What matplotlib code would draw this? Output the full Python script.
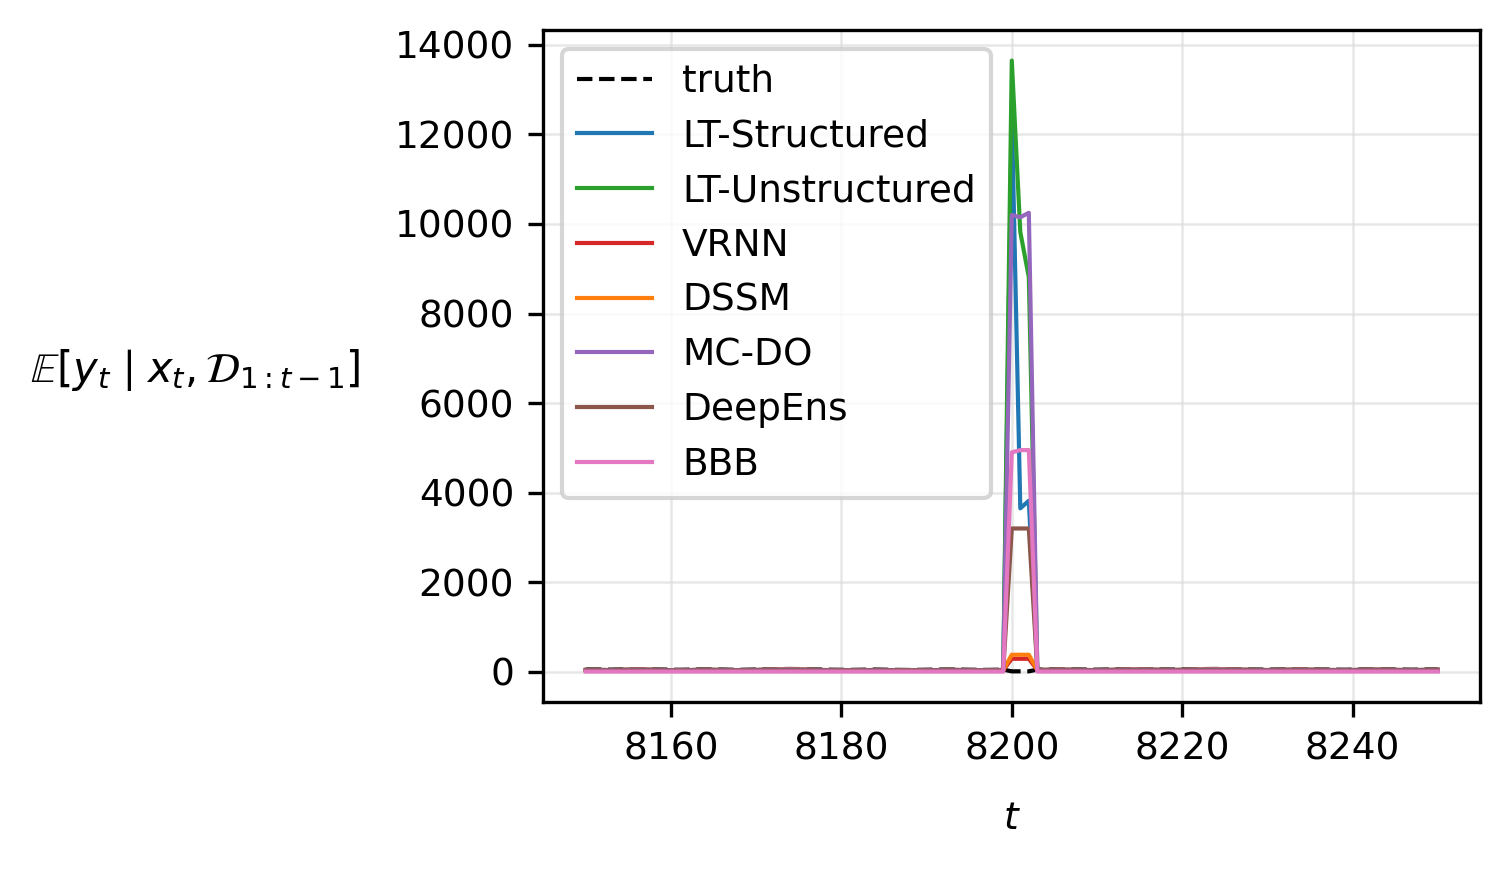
import matplotlib
matplotlib.use("Agg")
import matplotlib.pyplot as plt
import numpy as np

t = np.arange(8150, 8251)

# baseline levels (tiny compared with the spike)
truth_base = [52, 55, 50, 48, 53, 57, 60, 58, 54, 50, 47, 45, 48, 52, 55, 53, 50, 46, 44, 47,
              51, 55, 58, 61, 63, 60, 56, 52, 49, 46, 44, 42, 45, 48, 50, 47, 44, 42, 40, 43,
              46, 48, 50, 52, 49, 46, 44, 42, 45, 48, 10, 10, 10, 48, 52, 55, 57, 54, 51, 49,
              47, 50, 53, 56, 58, 60, 57, 54, 52, 50, 53, 56, 59, 61, 63, 60, 57, 55, 52, 50,
              48, 51, 54, 56, 58, 55, 52, 50, 48, 46, 49, 52, 55, 57, 54, 51, 49, 47, 50, 53, 55]
model_base = [40, 42, 39, 37, 41, 44, 47, 46, 42, 39, 36, 35, 37, 40, 43, 41, 39, 36, 34, 36,
              39, 43, 45, 48, 50, 47, 44, 40, 38, 36, 34, 33, 35, 37, 39, 37, 34, 33, 31, 33,
              36, 37, 39, 41, 38, 36, 34, 33, 35, 37, 38, 40, 42, 44, 41, 43, 45, 42, 40, 38,
              37, 39, 41, 44, 46, 47, 45, 42, 41, 39, 41, 44, 46, 48, 50, 47, 45, 43, 41, 39,
              38, 40, 42, 44, 46, 43, 41, 39, 38, 36, 38, 41, 43, 45, 42, 40, 38, 37, 39, 41, 43]

# values at t = 8199 .. 8203
spike_t = [8199, 8200, 8201, 8202, 8203]
spike_lt_struct = [40, 12500, 3650, 3820, 40]
spike_lt_unstruct = [40, 13650, 9820, 8810, 40]
spike_vrnn = [40, 290, 290, 290, 40]
spike_dssm = [40, 380, 380, 380, 40]
spike_mcdo = [40, 10200, 10150, 10250, 40]
spike_deepens = [30, 3200, 3200, 3200, 30]
spike_bbb = [5, 4900, 4950, 4950, 5]
bbb_base_level = 5
deepens_base_level = 30

labels = ["LT-Structured", "LT-Unstructured", "VRNN", "DSSM", "MC-DO", "DeepEns", "BBB"]
colors = ["#1f77b4", "#2ca02c", "#d62728", "#ff7f0e", "#9467bd", "#8c564b", "#e377c2"]


def series(base, spike):
    y = np.array(base, dtype=float)
    for tt, v in zip(spike_t, spike):
        y[tt - t[0]] = v
    return y


truth = np.array(truth_base, dtype=float)
ys = [
    series(model_base, spike_lt_struct),
    series(model_base, spike_lt_unstruct),
    series(model_base, spike_vrnn),
    series(model_base, spike_dssm),
    series(model_base, spike_mcdo),
    series([deepens_base_level] * len(t), spike_deepens),
    series([bbb_base_level] * len(t), spike_bbb),
]

plt.rcParams['font.size'] = 9.0
fig = plt.figure(figsize=(1509 / 300, 870 / 300), dpi=300)
ax = fig.add_axes([0.36, 0.193, 0.621, 0.7725])

ax.plot(t, truth, "k--", lw=1.0, label="truth")
for y, lab, c in zip(ys, labels, colors):
    ax.plot(t, y, color=c, lw=1.0, label=lab)

ax.grid(True, color="#dddddd", lw=0.6, alpha=0.7)
ax.set_xticks([8160, 8180, 8200, 8220, 8240])
ax.set_yticks([0, 2000, 4000, 6000, 8000, 10000, 12000, 14000])
ax.set_xlabel(r"$t$", labelpad=8)
ax.set_ylabel(r"$\mathbb{E}[y_t \mid x_t, \mathcal{D}_{1:t-1}]$", rotation=0, ha="right", va="center",
              fontsize=10.0)
ax.yaxis.set_label_coords(-0.195, 0.494)
ax.legend(loc="upper left", labelspacing=0.5, framealpha=0.8)

fig.savefig("out.png", dpi=300)
